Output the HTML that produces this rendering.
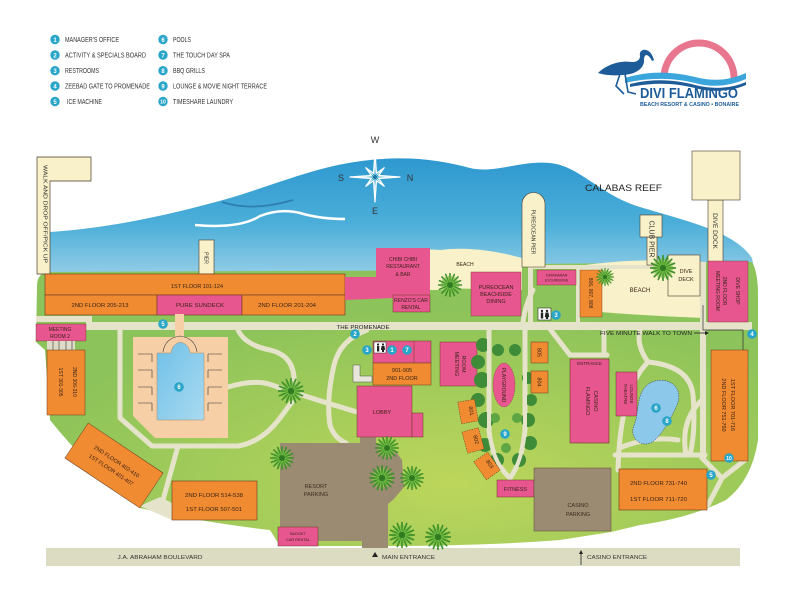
<!DOCTYPE html>
<html><head><meta charset="utf-8"><style>
html,body{margin:0;padding:0;background:#fff;width:800px;height:600px;overflow:hidden}
svg{display:block}
text{font-family:"Liberation Sans",sans-serif}
</style></head><body>
<svg width="800" height="600" viewBox="0 0 800 600" xmlns="http://www.w3.org/2000/svg">
<defs>
<linearGradient id="sea" x1="0" y1="0" x2="0" y2="1">
 <stop offset="0" stop-color="#2e98cf"/>
 <stop offset="0.5" stop-color="#4cafd9"/>
 <stop offset="1" stop-color="#a8d6ea"/>
</linearGradient>
<radialGradient id="land" cx="0.58" cy="0.78" r="0.62">
 <stop offset="0" stop-color="#bdd65b"/>
 <stop offset="1" stop-color="#8cc35a"/>
</radialGradient>
<linearGradient id="pool" x1="0" y1="0" x2="1" y2="1">
 <stop offset="0" stop-color="#6fc0e8"/>
 <stop offset="1" stop-color="#a9daf0"/>
</linearGradient>
<symbol id="palm" viewBox="-10 -10 20 20">
 <g stroke="#3f8f2a" stroke-width="1.3" stroke-linecap="round">
  <path d="M0 0L0 -9.5M0 0L3.6 -8.8M0 0L6.7 -6.7M0 0L8.8 -3.6M0 0L9.5 0M0 0L8.8 3.6M0 0L6.7 6.7M0 0L3.6 8.8M0 0L0 9.5M0 0L-3.6 8.8M0 0L-6.7 6.7M0 0L-8.8 3.6M0 0L-9.5 0M0 0L-8.8 -3.6M0 0L-6.7 -6.7M0 0L-3.6 -8.8"/>
 </g>
 <g stroke="#7fc848" stroke-width="0.9" stroke-linecap="round" transform="rotate(11.25) scale(0.8)">
  <path d="M0 0L0 -9.5M0 0L3.6 -8.8M0 0L6.7 -6.7M0 0L8.8 -3.6M0 0L9.5 0M0 0L8.8 3.6M0 0L6.7 6.7M0 0L3.6 8.8M0 0L0 9.5M0 0L-3.6 8.8M0 0L-6.7 6.7M0 0L-8.8 3.6M0 0L-9.5 0M0 0L-8.8 -3.6M0 0L-6.7 -6.7M0 0L-3.6 -8.8"/>
 </g>
 <circle r="2.5" fill="#2f7a22"/>
</symbol>
</defs>

<rect width="800" height="600" fill="#fff"/>

<!-- LEGEND -->
<g font-size="7" fill="#333">
 <circle cx="55" cy="39.5" r="4.7" fill="#29a5c8"/><text x="55" y="41.8" font-size="6" fill="#fff" text-anchor="middle" font-weight="bold">1</text>
 <circle cx="55" cy="55" r="4.7" fill="#29a5c8"/><text x="55" y="57.3" font-size="6" fill="#fff" text-anchor="middle" font-weight="bold">2</text>
 <circle cx="55" cy="70.7" r="4.7" fill="#29a5c8"/><text x="55" y="73" font-size="6" fill="#fff" text-anchor="middle" font-weight="bold">3</text>
 <circle cx="55" cy="86" r="4.7" fill="#29a5c8"/><text x="55" y="88.3" font-size="6" fill="#fff" text-anchor="middle" font-weight="bold">4</text>
 <circle cx="55" cy="101.5" r="4.7" fill="#29a5c8"/><text x="55" y="103.8" font-size="6" fill="#fff" text-anchor="middle" font-weight="bold">5</text>
 <circle cx="163" cy="39.5" r="4.7" fill="#29a5c8"/><text x="163" y="41.8" font-size="6" fill="#fff" text-anchor="middle" font-weight="bold">6</text>
 <circle cx="163" cy="55" r="4.7" fill="#29a5c8"/><text x="163" y="57.3" font-size="6" fill="#fff" text-anchor="middle" font-weight="bold">7</text>
 <circle cx="163" cy="70.7" r="4.7" fill="#29a5c8"/><text x="163" y="73" font-size="6" fill="#fff" text-anchor="middle" font-weight="bold">8</text>
 <circle cx="163" cy="86" r="4.7" fill="#29a5c8"/><text x="163" y="88.3" font-size="6" fill="#fff" text-anchor="middle" font-weight="bold">9</text>
 <circle cx="163" cy="101.5" r="4.7" fill="#29a5c8"/><text x="163" y="103.6" font-size="5" fill="#fff" text-anchor="middle" font-weight="bold">10</text>
 <text x="65" y="42" textLength="54" lengthAdjust="spacingAndGlyphs">MANAGER'S OFFICE</text>
 <text x="65" y="57.5" textLength="81" lengthAdjust="spacingAndGlyphs">ACTIVITY &amp; SPECIALS BOARD</text>
 <text x="65" y="73" textLength="34" lengthAdjust="spacingAndGlyphs">RESTROOMS</text>
 <text x="65" y="88.5" textLength="85" lengthAdjust="spacingAndGlyphs">ZEEBAD GATE TO PROMENADE</text>
 <text x="67" y="104" textLength="35" lengthAdjust="spacingAndGlyphs">ICE MACHINE</text>
 <text x="173" y="42" textLength="18" lengthAdjust="spacingAndGlyphs">POOLS</text>
 <text x="173" y="57.5" textLength="57" lengthAdjust="spacingAndGlyphs">THE TOUCH DAY SPA</text>
 <text x="173" y="73" textLength="32" lengthAdjust="spacingAndGlyphs">BBQ GRILLS</text>
 <text x="173" y="88.5" textLength="94" lengthAdjust="spacingAndGlyphs">LOUNGE &amp; MOVIE NIGHT TERRACE</text>
 <text x="173" y="104" textLength="60" lengthAdjust="spacingAndGlyphs">TIMESHARE LAUNDRY</text>
</g>

<!-- LOGO -->
<path d="M664,78 A35,35 0 0 1 734,78" fill="none" stroke="#e9768f" stroke-width="7"/>
<path d="M625,78 C650,70 675,72 695,77 C715,82 730,80 746,73 L746,79 C730,86 712,88 695,83 C675,78 650,77 625,83 Z" fill="#3aa6dc"/>
<path d="M630,84 C655,78 675,80 695,85 C715,90 732,88 746,82 L746,85 C732,91 712,93 695,88 C675,83 655,82 630,87 Z" fill="#1d5c98"/>
<path d="M598,73 C605,66 618,60 632,62 C637,62 640,60 640,56 C639,52 642,49 646,50 C650,51 652,54 654,60 L652,61 C650,57 648,55 646,55 C644,56 644,59 644,62 C643,68 638,72 630,74 C620,76 608,76 598,73 Z" fill="#1d5c98"/>
<path d="M620,74 L616,86 L624,94 M625,74 L628,92 L636,94" fill="none" stroke="#1d5c98" stroke-width="1.6"/>
<text x="640" y="98" font-size="15" font-weight="bold" fill="#1d5c98" textLength="98" lengthAdjust="spacingAndGlyphs">DIVI FLAMINGO</text>
<text x="640" y="106" font-size="5.5" font-weight="bold" fill="#1d5c98" textLength="99" lengthAdjust="spacingAndGlyphs">BEACH RESORT &amp; CASINO • BONAIRE</text>

<!-- SEA -->
<path d="M50,232 C110,228 170,215 230,198 C280,183 320,165 370,160 C410,156 440,160 470,168 C495,174 520,160 550,163 C580,166 600,195 640,207 C690,222 735,232 752,258 L758,290 L50,290 Z" fill="url(#sea)"/>
<path d="M195,225 Q240,229 260,216 Q280,208 300,213 Q320,219 345,219" fill="none" stroke="#fff" stroke-width="2.5"/>
<path d="M222,202 Q252,212 293,200" fill="none" stroke="#2d7fb0" stroke-width="1.8"/>
<text x="585" y="191" font-size="9.5" fill="#222" textLength="77" lengthAdjust="spacingAndGlyphs">CALABAS REEF</text>

<!-- COMPASS -->
<g transform="translate(375,177)">
 <polygon points="0,-25 1.5,-3.7 9.2,-9.2 3.7,-1.5 25,0 3.7,1.5 9.2,9.2 1.5,3.7 0,25 -1.5,3.7 -9.2,9.2 -3.7,1.5 -25,0 -3.7,-1.5 -9.2,-9.2 -1.5,-3.7" fill="#2aa0cc" stroke="#fff" stroke-width="1.2" stroke-linejoin="round"/>
 <path d="M0,-23 L0,23 M-23,0 L23,0 M-8,-8 L8,8 M-8,8 L8,-8" stroke="#fff" stroke-width="0.7"/>
 <circle r="2.2" fill="#1d7aa8"/>
</g>
<g font-size="9" fill="#333" text-anchor="middle">
 <text x="375" y="143">W</text><text x="341" y="181">S</text><text x="410" y="181">N</text><text x="375" y="214">E</text>
</g>

<!-- LAND -->
<path d="M37,286 Q37,272 50,272 L520,270 L526,264 L752,262 Q758,272 758,295 L758,440 Q752,480 726,500 Q690,518 640,525 L611,532 L560,540 Q500,545 400,546 L280,546 L270,530 Q200,522 140,508 Q90,470 50,420 L45,350 L36,342 Z" fill="url(#land)"/>

<!-- BEACHES -->
<path d="M376,262 C400,252 420,248 440,250 C470,246 500,252 522,258 L522,290 C500,292 470,286 440,290 L376,290 Z" fill="#f8f1c9"/>
<path d="M578,266 Q640,257 705,262 L705,318 Q650,316 600,312 L578,312 Z" fill="#f8f1c9"/>

<!-- PATHS -->
<g fill="#e5e3c9">
 <rect x="36" y="316" width="56" height="6"/>
 <rect x="86" y="316" width="6" height="14"/>
 <rect x="86" y="322" width="666" height="8"/>
 <rect x="528" y="265" width="177" height="4"/>
 <rect x="528" y="265" width="5" height="60"/>
 <rect x="576" y="265" width="4" height="60"/>
 <rect x="700" y="262" width="6" height="198"/>
</g>
<g fill="none" stroke="#e5e3c9" stroke-width="5" stroke-linecap="round" stroke-linejoin="round">
 <path d="M120,330 L120,418 L152,446 L238,446 Q262,442 280,418 L292,402"/>
 <path d="M228,387 Q255,379 272,385 Q300,395 357,412"/>
 <path d="M238,330 Q245,345 270,350 Q296,356 294,385"/>
 <path d="M178,446 L163,500"/>
 <path d="M367,330 Q340,340 334,365 Q326,400 330,425 Q334,438 346,443"/>
 <path d="M489,330 L489,430 Q492,462 510,478"/>
 <path d="M525,330 L525,430 Q522,462 510,478"/>
 <path d="M550,329 L570,355 L607,355"/>
 <path d="M604,330 L604,355"/>
 <path d="M640,330 Q636,345 648,362 Q690,366 693,395 Q696,430 690,455"/>
 <path d="M648,362 Q620,390 618,470"/>
 <path d="M702,400 Q680,420 686,455"/>
 <path d="M615,455 L705,455"/>
 <path d="M622,447 Q650,436 678,440"/>
 <path d="M702,458 L722,478 L708,505 M722,478 L745,460"/>
 <path d="M533,290 Q525,305 523,322"/>
</g>
<path d="M140,506 L172,520 L172,503 L160,497 Z" fill="#e5e3c9"/>
<path d="M703,305 L703,330 L743,330 L743,350" fill="none" stroke="#333" stroke-width="0.7"/>

<!-- WALK & DROP OFF -->
<path d="M37,274 L37,157 L91,157 L91,181 L50,181 L50,274 Z" fill="#f8f1c9" stroke="#4a3a2a" stroke-width="0.7"/>
<text transform="translate(43.5,214) rotate(90)" font-size="5.5" fill="#333" text-anchor="middle" textLength="98" lengthAdjust="spacingAndGlyphs">WALK AND DROP OFF/PICK UP</text>

<!-- PIER -->
<rect x="199" y="240" width="15" height="34" fill="#f8f1c9" stroke="#4a3a2a" stroke-width="0.6"/>
<text transform="translate(204.5,258) rotate(90)" font-size="5" fill="#333" text-anchor="middle">PIER</text>

<!-- BIG ORANGE BUILDING -->
<g stroke="#6b3a1e" stroke-width="0.6">
 <rect x="45" y="274" width="300" height="21" fill="#f08b31"/>
 <rect x="45" y="295" width="112" height="20" fill="#f08b31"/>
 <rect x="157" y="295" width="85" height="20" fill="#e8568f"/>
 <rect x="242" y="295" width="103" height="20" fill="#f08b31"/>
</g>
<g font-size="5.5" fill="#3a2418" text-anchor="middle">
 <text x="197" y="288" textLength="52" lengthAdjust="spacingAndGlyphs">1ST FLOOR 101-124</text>
 <text x="100" y="307" textLength="57" lengthAdjust="spacingAndGlyphs">2ND FLOOR 205-213</text>
 <text x="200" y="307" textLength="48" lengthAdjust="spacingAndGlyphs">PURE SUNDECK</text>
 <text x="287" y="307" textLength="58" lengthAdjust="spacingAndGlyphs">2ND FLOOR 201-204</text>
</g>

<!-- CHIBI CHIBI -->
<path d="M376,248 L430,248 L430,312 L393,312 L393,298 L345,300 L345,277 L376,277 Z" fill="#e8568f"/>
<rect x="393" y="295" width="37" height="17" fill="#e8568f" stroke="#6b3a1e" stroke-width="0.5"/>
<g font-size="5" fill="#3a2418" text-anchor="middle">
 <text x="403" y="261">CHIBI CHIBI</text>
 <text x="403" y="268">RESTAURANT</text>
 <text x="403" y="276">&amp; BAR</text>
 <text x="411" y="302">RENZO'S CAR</text>
 <text x="411" y="309">RENTAL</text>
 <text x="465" y="266">BEACH</text>
</g>

<!-- PUREOCEAN -->
<rect x="471" y="272" width="50" height="44" fill="#e8568f" stroke="#6b3a1e" stroke-width="0.4"/>
<g font-size="5.5" fill="#3a2418" text-anchor="middle">
 <text x="496" y="289">PUREOCEAN</text>
 <text x="496" y="296">BEACHSIDE</text>
 <text x="496" y="303">DINING</text>
</g>
<path d="M522,267 L522,204 A11.5,11.5 0 0 1 545,204 L545,267 Z" fill="#f8f1c9" stroke="#4a3a2a" stroke-width="0.6"/>
<text transform="translate(531.5,232) rotate(90)" font-size="5" fill="#333" text-anchor="middle">PUREOCEAN PIER</text>

<rect x="537" y="270" width="39" height="15" fill="#e8568f" stroke="#6b3a1e" stroke-width="0.4"/>
<text x="556.5" y="276.5" font-size="3.5" fill="#3a2418" text-anchor="middle">CATAMARAN</text>
<text x="556.5" y="281.5" font-size="3.5" fill="#3a2418" text-anchor="middle">EXCURSIONS</text>

<!-- restroom near pier -->
<rect x="538" y="308" width="13" height="12" fill="#fff" stroke="#333" stroke-width="0.6"/>
<g fill="#222"><circle cx="542" cy="311" r="1.2"/><rect x="540.8" y="312.5" width="2.4" height="6"/><circle cx="547" cy="311" r="1.2"/><path d="M545.5,312.5 L548.5,312.5 L549.2,317 L544.8,317 Z"/><rect x="545.8" y="317" width="2.4" height="2"/></g>

<!-- 806-808 -->
<rect x="580" y="270" width="22" height="47" fill="#f08b31" stroke="#6b3a1e" stroke-width="0.4"/>
<text transform="translate(589,293) rotate(90)" font-size="5" fill="#3a2418" text-anchor="middle">806, 807, 808</text>
<text x="640" y="292" font-size="6" fill="#3a2418" text-anchor="middle">BEACH</text>

<!-- CLUB PIER -->
<rect x="647" y="237" width="10" height="28" fill="#f8f1c9" stroke="#4a3a2a" stroke-width="0.6"/>
<rect x="640" y="215" width="22" height="22" fill="#f8f1c9" stroke="#4a3a2a" stroke-width="0.6"/>
<text transform="translate(649.5,239) rotate(90)" font-size="7" fill="#333" text-anchor="middle">CLUB PIER</text>

<!-- DIVE DECK -->
<rect x="668" y="255" width="32" height="41" fill="#f8f1c9" stroke="#4a3a2a" stroke-width="0.6"/>
<text x="686" y="273" font-size="5.5" fill="#3a2418" text-anchor="middle">DIVE</text>
<text x="686" y="281" font-size="5.5" fill="#3a2418" text-anchor="middle">DECK</text>

<!-- DIVE DOCK -->
<rect x="708" y="200" width="15" height="62" fill="#f8f1c9" stroke="#4a3a2a" stroke-width="0.6"/>
<rect x="692" y="151" width="48" height="49" fill="#f8f1c9" stroke="#4a3a2a" stroke-width="0.6"/>
<text transform="translate(713,231) rotate(90)" font-size="6.5" fill="#333" text-anchor="middle">DIVE DOCK</text>

<!-- DIVE SHOP -->
<rect x="708" y="261" width="40" height="61" fill="#e8568f" stroke="#6b3a1e" stroke-width="0.4"/>
<g font-size="5" fill="#3a2418" text-anchor="middle">
 <text transform="translate(716,291) rotate(90)">MEETING ROOM</text>
 <text transform="translate(723,291) rotate(90)">2ND FLOOR</text>
 <text transform="translate(736,291) rotate(90)">DIVE SHOP</text>
</g>

<!-- PROMENADE LABELS -->
<text x="363" y="329" font-size="5.5" fill="#222" text-anchor="middle" textLength="53" lengthAdjust="spacingAndGlyphs">THE PROMENADE</text>
<text x="600" y="335" font-size="5.5" fill="#222" textLength="92" lengthAdjust="spacingAndGlyphs">FIVE MINUTE WALK TO TOWN</text>
<path d="M694,333 L705,333" stroke="#222" stroke-width="0.8"/><path d="M705,331 L709,333 L705,335 Z" fill="#222"/>

<!-- MEETING ROOM 2 & LEFT BLDG -->
<rect x="36" y="324" width="50" height="17" fill="#e8568f" stroke="#6b3a1e" stroke-width="0.4"/>
<text x="60" y="331" font-size="5" fill="#3a2418" text-anchor="middle">MEETING</text>
<text x="60" y="338" font-size="5" fill="#3a2418" text-anchor="middle">ROOM 2</text>
<rect x="47" y="341" width="28" height="9" fill="#dedcc8"/>
<path d="M53,341 L53,350 M59,341 L59,350 M66,341 L66,350 M72,341 L72,350" stroke="#333" stroke-width="0.6"/>
<rect x="47" y="350" width="38" height="65" fill="#f08b31" stroke="#6b3a1e" stroke-width="0.5"/>
<text transform="translate(59,382) rotate(90)" font-size="5" fill="#3a2418" text-anchor="middle">1ST 301-305</text>
<text transform="translate(73,382) rotate(90)" font-size="5" fill="#3a2418" text-anchor="middle">2ND 306-310</text>

<!-- POOL -->
<rect x="175" y="314" width="9" height="30" fill="#f6cfa6"/>
<path d="M133,337 L228,337 L228,438 L155,438 L133,416 Z" fill="#f6cfa6"/>
<path d="M163,352 Q165,338 180,336 Q195,338 197,352" fill="none" stroke="#333" stroke-width="0.6"/>
<path d="M157,353 L171,353 Q172,344 180.5,342 Q189,344 190,353 L204,353 L204,420 L157,420 Z" fill="url(#pool)" stroke="#a78a6a" stroke-width="0.5"/>
<g stroke="#333" stroke-width="0.6">
 <path d="M138,354 L152,354 M138,370 L152,370 M138,387 L152,387 M138,403 L152,403 M152,354 L152,362 M152,370 L152,378 M152,387 L152,395 M152,403 L152,411"/>
 <path d="M208,354 L222,354 M208,370 L222,370 M208,387 L222,387 M208,403 L222,403 M208,354 L208,362 M208,370 L208,378 M208,387 L208,395 M208,403 L208,411"/>
</g>

<!-- 4xx diagonal -->
<g transform="translate(114,465.5) rotate(33.7)">
 <rect x="-45" y="-21" width="90" height="42" fill="#f08b31" stroke="#6b3a1e" stroke-width="0.5"/>
 <text x="0" y="-3" font-size="5.5" fill="#3a2418" text-anchor="middle">2ND FLOOR  402-410</text>
 <text x="0" y="7" font-size="5.5" fill="#3a2418" text-anchor="middle">1ST FLOOR  401-407</text>
</g>

<!-- 5xx -->
<rect x="172" y="481" width="85" height="39" fill="#f08b31" stroke="#6b3a1e" stroke-width="0.6"/>
<text x="214" y="497" font-size="5.5" fill="#3a2418" text-anchor="middle" textLength="58" lengthAdjust="spacingAndGlyphs">2ND FLOOR 514-538</text>
<text x="214" y="511" font-size="5.5" fill="#3a2418" text-anchor="middle" textLength="56" lengthAdjust="spacingAndGlyphs">1ST FLOOR 507-501</text>

<!-- BOULEVARD -->
<rect x="46" y="548" width="694" height="18" fill="#dcdcc2"/>
<text x="160" y="559" font-size="5.5" fill="#333" text-anchor="middle" textLength="85" lengthAdjust="spacingAndGlyphs">J.A. ABRAHAM BOULEVARD</text>
<path d="M372,557 L375,552 L378,557 Z" fill="#222"/>
<text x="382" y="559" font-size="5.5" fill="#333" textLength="53" lengthAdjust="spacingAndGlyphs">MAIN ENTRANCE</text>
<path d="M581,565 L581,553" stroke="#222" stroke-width="0.8"/><path d="M579,554 L581,550 L583,554 Z" fill="#222"/>
<text x="587" y="559" font-size="5.5" fill="#333" textLength="60" lengthAdjust="spacingAndGlyphs">CASINO ENTRANCE</text>

<!-- RESORT PARKING -->
<polygon points="280,443 360,443 360,437 376,437 376,443 392,446 402,460 404,487 394,499 388,504 388,548 362,548 362,541 280,541" fill="#9c8b73"/>
<text x="316" y="488" font-size="5.5" fill="#3a2a1a" text-anchor="middle">RESORT</text>
<text x="316" y="496" font-size="5.5" fill="#3a2a1a" text-anchor="middle">PARKING</text>
<rect x="278" y="527" width="40" height="19" fill="#e8568f" stroke="#6b3a1e" stroke-width="0.5"/>
<text x="298" y="535" font-size="3.8" fill="#3a2418" text-anchor="middle">BUDGET</text>
<text x="298" y="541" font-size="3.8" fill="#3a2418" text-anchor="middle">CAR RENTAL</text>

<!-- LOBBY & MAIN BLDG -->
<rect x="357" y="386" width="55" height="51" fill="#e8568f" stroke="#6b3a1e" stroke-width="0.5"/>
<rect x="412" y="413" width="11" height="24" fill="#e8568f" stroke="#6b3a1e" stroke-width="0.5"/>
<text x="382" y="414" font-size="5.5" fill="#3a2418" text-anchor="middle">LOBBY</text>
<path d="M353,365 L360,365 L360,376 L372,376 L372,382 L353,382 Z" fill="#e8e6da" stroke="#555" stroke-width="0.5"/>
<rect x="373" y="341" width="58" height="22" fill="#e8568f" stroke="#6b3a1e" stroke-width="0.5"/>
<path d="M414,341 L414,363" stroke="#6b3a1e" stroke-width="0.5"/>
<rect x="373" y="363" width="58" height="22" fill="#f08b31" stroke="#6b3a1e" stroke-width="0.5"/>
<text x="402" y="372" font-size="5.5" fill="#3a2418" text-anchor="middle">901-905</text>
<text x="402" y="380" font-size="5.5" fill="#3a2418" text-anchor="middle">2ND FLOOR</text>
<rect x="374" y="342" width="12" height="11" fill="#fff" stroke="#333" stroke-width="0.5"/>
<g fill="#222"><circle cx="378" cy="344.5" r="1.1"/><rect x="377" y="346" width="2.2" height="5.5"/><circle cx="383" cy="344.5" r="1.1"/><path d="M381.5,346 L384.5,346 L385,350 L381,350 Z"/><rect x="382" y="350" width="2" height="2"/></g>

<!-- MEETING ROOM -->
<rect x="440" y="342" width="37" height="44" fill="#e8568f" stroke="#6b3a1e" stroke-width="0.5"/>
<text transform="translate(455,364) rotate(90)" font-size="5.5" fill="#3a2418" text-anchor="middle">MEETING</text>
<text transform="translate(462,364) rotate(90)" font-size="5.5" fill="#3a2418" text-anchor="middle">ROOM</text>

<!-- PLAYGROUND TREES -->
<g fill="#3f8c38">
 <circle cx="483" cy="345" r="7"/><circle cx="478" cy="362" r="7"/><circle cx="482" cy="380" r="8"/><circle cx="478" cy="400" r="7"/><circle cx="486" cy="420" r="8"/><circle cx="485" cy="445" r="7"/><circle cx="497" cy="460" r="7"/><circle cx="519" cy="460" r="7"/><circle cx="530" cy="443" r="7"/><circle cx="528" cy="420" r="7"/><circle cx="531" cy="400" r="6"/><circle cx="528" cy="378" r="6"/><circle cx="515" cy="350" r="6"/><circle cx="498" cy="350" r="6"/>
</g>
<g fill="#5ea544">
 <circle cx="495" cy="418" r="5"/><circle cx="517" cy="418" r="5"/><circle cx="506" cy="448" r="5"/>
</g>
<path d="M489,330 L489,430 Q492,462 510,478 M525,330 L525,430 Q522,462 510,478" fill="none" stroke="#e5e3c9" stroke-width="4"/>
<ellipse cx="504" cy="385" rx="11" ry="22" fill="#e8568f" stroke="#6b3a1e" stroke-width="0.5" stroke-dasharray="1 1"/>
<text transform="translate(502,385) rotate(90)" font-size="5" fill="#3a2418" text-anchor="middle">PLAYGROUND</text>

<!-- SMALL 80x -->
<g font-size="5.5" fill="#3a2418" text-anchor="middle" stroke-width="0.5">
 <rect x="531" y="342" width="17" height="21" fill="#f08b31" stroke="#6b3a1e"/>
 <text transform="translate(537.5,352.5) rotate(90)" stroke="none">805</text>
 <rect x="531" y="371" width="17" height="22" fill="#f08b31" stroke="#6b3a1e"/>
 <text transform="translate(537.5,382) rotate(90)" stroke="none">804</text>
 <g transform="translate(468,411.5) rotate(-10)"><rect x="-8.5" y="-11" width="17" height="22" fill="#f08b31" stroke="#6b3a1e" stroke-dasharray="1.5 1"/><text transform="rotate(90)" x="0" y="-1.5" stroke="none">801</text></g>
 <g transform="translate(473,440.5) rotate(-15)"><rect x="-8.5" y="-11" width="17" height="22" fill="#f08b31" stroke="#6b3a1e" stroke-dasharray="1.5 1"/><text transform="rotate(90)" x="0" y="-1.5" stroke="none">802</text></g>
 <g transform="translate(487,466) rotate(-35)"><rect x="-8.5" y="-11" width="17" height="22" fill="#f08b31" stroke="#6b3a1e" stroke-dasharray="1.5 1"/><text transform="rotate(90)" x="0" y="-1.5" stroke="none">803</text></g>
</g>

<!-- FITNESS & CASINO PARKING -->
<rect x="497" y="480" width="37" height="17" fill="#e8568f" stroke="#6b3a1e" stroke-width="0.5"/>
<text x="515.5" y="491" font-size="5.5" fill="#3a2418" text-anchor="middle">FITNESS</text>
<rect x="534" y="468" width="77" height="63" fill="#9c8b73" stroke="#5a4a3a" stroke-width="0.5"/>
<text x="578" y="507" font-size="5.5" fill="#3a2a1a" text-anchor="middle">CASINO</text>
<text x="578" y="516" font-size="5.5" fill="#3a2a1a" text-anchor="middle">PARKING</text>

<!-- FLAMINGO CASINO -->
<rect x="570" y="359" width="39" height="84" fill="#e8568f" stroke="#6b3a1e" stroke-width="0.6"/>
<text x="589.5" y="365" font-size="4.5" fill="#3a2418" text-anchor="middle">ENTRANCE</text>
<text transform="translate(586,401) rotate(90)" font-size="5.5" fill="#3a2418" text-anchor="middle">FLAMINGO</text>
<text transform="translate(594,401) rotate(90)" font-size="5.5" fill="#3a2418" text-anchor="middle">CASINO</text>
<rect x="616" y="372" width="21" height="44" fill="#e8568f" stroke="#6b3a1e" stroke-width="0.5"/>
<text transform="translate(624,394) rotate(90)" font-size="4.5" fill="#3a2418" text-anchor="middle">THEATRE</text>
<text transform="translate(630,394) rotate(90)" font-size="4.5" fill="#3a2418" text-anchor="middle">LOUNGE</text>

<!-- POND -->
<path d="M650,383 C665,375 685,385 677,405 C670,420 665,430 655,440 C645,450 628,440 634,425 C640,412 635,392 650,383 Z" fill="#8cc8ea" stroke="#335" stroke-width="0.5" stroke-dasharray="1.5 1"/>

<!-- RIGHT BLDGS -->
<rect x="711" y="350" width="37" height="111" fill="#f08b31" stroke="#6b3a1e" stroke-width="0.5"/>
<text transform="translate(722,405) rotate(90)" font-size="5.5" fill="#3a2418" text-anchor="middle">2ND FLOOR 751-760</text>
<text transform="translate(731,405) rotate(90)" font-size="5.5" fill="#3a2418" text-anchor="middle">1ST FLOOR 701-716</text>
<rect x="619" y="469" width="88" height="41" fill="#f08b31" stroke="#6b3a1e" stroke-width="0.6"/>
<text x="630" y="485" font-size="5.5" fill="#3a2418" textLength="57" lengthAdjust="spacingAndGlyphs">2ND FLOOR 731-740</text>
<text x="630" y="501" font-size="5.5" fill="#3a2418" textLength="57" lengthAdjust="spacingAndGlyphs">1ST FLOOR 711-720</text>

<!-- PALMS -->
<use href="#palm" x="438" y="273" width="24" height="24"/>
<use href="#palm" x="596" y="268" width="18" height="18"/>
<use href="#palm" x="650" y="255" width="26" height="26"/>
<use href="#palm" x="278" y="378" width="26" height="26"/>
<use href="#palm" x="270" y="446" width="24" height="24"/>
<use href="#palm" x="375" y="436" width="24" height="24"/>
<use href="#palm" x="369" y="465" width="26" height="26"/>
<use href="#palm" x="400" y="466" width="24" height="24"/>
<use href="#palm" x="389" y="522" width="26" height="26"/>
<use href="#palm" x="425" y="524" width="26" height="26"/>

<!-- MARKERS -->
<g font-size="6" fill="#fff" text-anchor="middle" font-weight="bold">
 <circle cx="163" cy="324" r="4.8" fill="#29a5c8"/><text x="163" y="326.2">5</text>
 <circle cx="179" cy="387" r="4.8" fill="#29a5c8"/><text x="179" y="389.2">6</text>
 <circle cx="355" cy="334" r="4.8" fill="#29a5c8"/><text x="355" y="336.2">2</text>
 <circle cx="367" cy="350" r="4.8" fill="#29a5c8"/><text x="367" y="352.2">3</text>
 <circle cx="392" cy="350" r="4.8" fill="#29a5c8"/><text x="392" y="352.2">1</text>
 <circle cx="407" cy="350" r="4.8" fill="#29a5c8"/><text x="407" y="352.2">7</text>
 <circle cx="556" cy="315" r="4.8" fill="#29a5c8"/><text x="556" y="317.2">3</text>
 <circle cx="505" cy="434" r="4.8" fill="#29a5c8"/><text x="505" y="436.2">9</text>
 <circle cx="752" cy="334" r="4.8" fill="#29a5c8"/><text x="752" y="336.2">4</text>
 <circle cx="656" cy="408" r="4.8" fill="#29a5c8"/><text x="656" y="410.2">6</text>
 <circle cx="667" cy="421" r="4.8" fill="#29a5c8"/><text x="667" y="423.2">8</text>
 <circle cx="729" cy="458" r="4.8" fill="#29a5c8"/><text x="729" y="460" font-size="5">10</text>
 <circle cx="711" cy="475" r="4.8" fill="#29a5c8"/><text x="711" y="477.2">5</text>
</g>
</svg>
</body></html>
